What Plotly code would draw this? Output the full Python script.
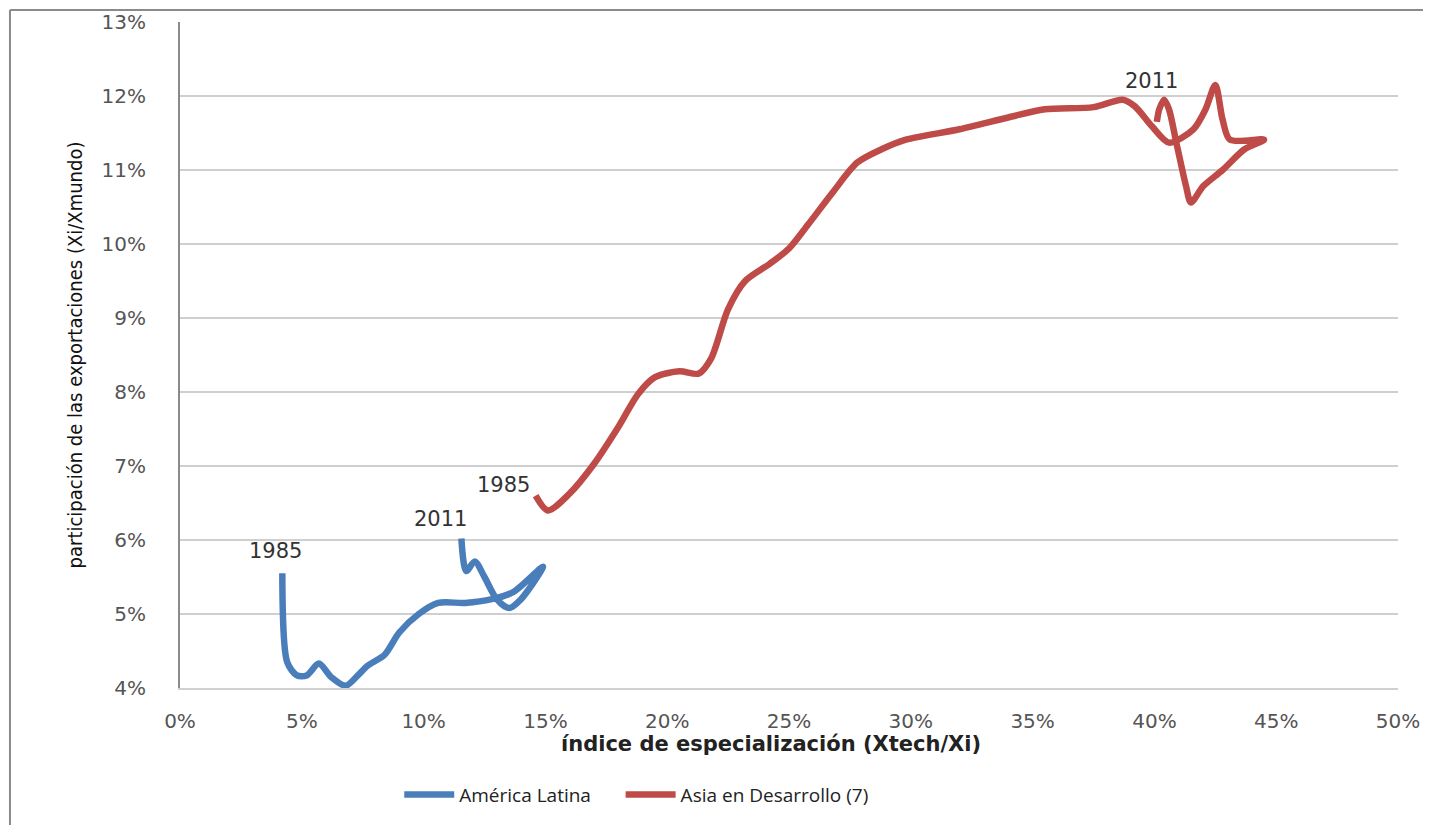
import plotly.graph_objects as go

# América Latina, 1985 -> 2011 (x: índice de especialización %, y: participación %)
latam_x = [4.2, 4.4, 4.8, 5.2, 5.7, 6.2, 6.8, 7.3, 7.7, 8.4, 9.0, 9.8, 10.6, 11.7,
           12.8, 13.7, 14.9, 14.0, 13.5, 13.0, 12.5, 12.1, 11.75, 11.55]
latam_y = [5.55, 4.35, 4.17, 4.17, 4.33, 4.15, 4.03, 4.17, 4.3, 4.45, 4.75, 5.0, 5.15, 5.15,
           5.2, 5.3, 5.64, 5.2, 5.08, 5.2, 5.5, 5.71, 5.58, 6.02]

# Asia en Desarrollo (7), 1985 -> 2011
asia_x = [14.6, 15.1, 16.0, 17.0, 18.0, 18.8, 19.5, 20.5, 21.3, 21.8, 22.5, 23.2, 24.2,
          25.0, 25.8, 26.8, 27.8, 28.8, 29.8, 32.0, 34.0, 35.5, 37.5, 38.7, 39.2, 39.9,
          40.6, 41.6, 42.1, 42.5, 42.8, 43.1, 44.5, 43.7, 42.8, 42.0, 41.5, 41.3, 40.9,
          40.6, 40.4, 40.2, 40.1]
asia_y = [6.6, 6.4, 6.63, 7.03, 7.53, 7.97, 8.2, 8.28, 8.25, 8.45, 9.12, 9.5, 9.73,
          9.94, 10.27, 10.7, 11.1, 11.28, 11.41, 11.55, 11.71, 11.82, 11.85, 11.95, 11.86, 11.59,
          11.37, 11.55, 11.82, 12.15, 11.68, 11.41, 11.41, 11.28, 11.0, 10.78, 10.56, 10.78, 11.37,
          11.82, 11.95, 11.82, 11.65]

year_labels = ["1985", "2011", "1985", "2011"]
label_x = [3.9, 10.7, 13.3, 39.9]
label_y = [5.85, 6.28, 6.75, 12.2]

BLUE = "#4A7EBB"
RED = "#BE4B48"
TICK = "#555555"
BORDER = "#8a8a8a"
PAD = "\u00a0" * 5  # widen the gap between legend items

fig = go.Figure()
fig.add_trace(go.Scatter(x=latam_x, y=latam_y, mode="lines", name="América Latina" + PAD,
                         line=dict(color=BLUE, width=6.5, shape="spline", smoothing=0.8)))
fig.add_trace(go.Scatter(x=asia_x, y=asia_y, mode="lines", name="Asia en Desarrollo (7)",
                         line=dict(color=RED, width=6.5, shape="spline", smoothing=0.8)))

for t, x, y in zip(year_labels, label_x, label_y):
    fig.add_annotation(x=x, y=y, text=t, showarrow=False,
                       font=dict(family="DejaVu Sans", size=21, color="#333333"))

# x axis title, placed like the original (slightly left of centre)
fig.add_annotation(xref="paper", yref="paper", x=0.485, y=-0.084, yanchor="middle",
                   text="<b>índice de especialización (Xtech/Xi)</b>", showarrow=False,
                   font=dict(family="DejaVu Sans", size=21, color="#222222"))

# outer chart border (top and left edges only visible)
fig.add_shape(type="line", xref="paper", yref="paper", x0=-0.1396, x1=1.1, y0=1.018, y1=1.018,
              line=dict(color=BORDER, width=2), layer="below")
fig.add_shape(type="line", xref="paper", yref="paper", x0=-0.1396, x1=-0.1396, y0=1.018, y1=-0.3,
              line=dict(color=BORDER, width=2), layer="below")

fig.update_layout(
    width=1423, height=817,
    paper_bgcolor="white", plot_bgcolor="white",
    margin=dict(l=172, r=33, t=14, b=135),
    font=dict(family="DejaVu Sans", color=TICK, size=20),
    showlegend=True,
    legend=dict(orientation="h", x=0.18, xanchor="left", y=-0.16, yanchor="middle",
                font=dict(family="Open Sans, Noto Sans", size=19, color="#222222"),
                itemwidth=50),
)
fig.update_xaxes(range=[0, 50], dtick=5, ticksuffix="%", showgrid=False, zeroline=False,
                 showline=True, linecolor="#d0d0d0", linewidth=2, ticks="",
                 ticklabelstandoff=14, automargin=False,
                 tickfont=dict(family="DejaVu Sans", size=20, color=TICK))
fig.update_yaxes(range=[4, 13], dtick=1, ticksuffix="%", showgrid=True, gridcolor="#cfcfcf",
                 gridwidth=2, zeroline=False, showline=True, linecolor=BORDER, linewidth=2,
                 ticks="", ticklabelstandoff=28, automargin=False,
                 tickfont=dict(family="DejaVu Sans", size=20, color=TICK),
                 title=dict(text="participación de las exportaciones (Xi/Xmundo)", standoff=14,
                            font=dict(family="Liberation Sans Narrow, DejaVu Sans Condensed", size=20,
                                      color="#111111")))

fig.write_html("out.html")
